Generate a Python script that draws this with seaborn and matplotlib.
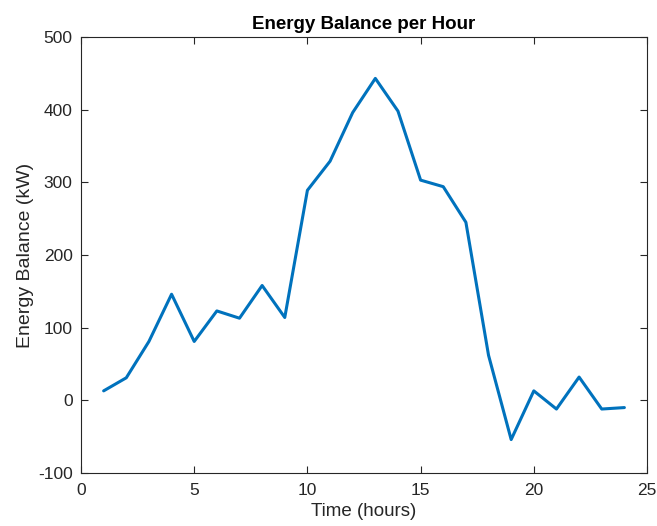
import numpy as np
import pandas as pd
import seaborn as sns
import matplotlib.pyplot as plt

# hourly energy balance
hours = list(range(1, 25))
balance_kw = [13, 31, 81, 146, 81, 123, 113, 158, 114, 289, 329, 396,
              443, 398, 303, 294, 245, 62, -54, 13, -12, 32, -12, -10]

x_ticks = [0, 5, 10, 15, 20, 25]
y_ticks = [-100, 0, 100, 200, 300, 400, 500]

LINE_COLOR = "#0072BD"
AX_COLOR = "#262626"

sns.set_theme(style="ticks")
plt.rcParams['font.family'] = ['Liberation Sans', 'DejaVu Sans']
plt.rcParams['axes.unicode_minus'] = False

df = pd.DataFrame({"hour": hours, "balance": balance_kw})

fig = plt.figure(figsize=(6.57, 5.26), dpi=100)
ax = fig.add_axes([0.1233, 0.1008, 0.8615, 0.8289])

sns.lineplot(data=df, x="hour", y="balance", ax=ax, color=LINE_COLOR, linewidth=2.2)

ax.set_xlim(0, 25)
ax.set_ylim(-100, 500)
ax.set_xticks(x_ticks)
ax.set_yticks(y_ticks)
ax.tick_params(direction="in", top=True, right=True, length=5, width=0.8,
               colors=AX_COLOR, labelsize=12.5, labelcolor=AX_COLOR)
ax.tick_params(axis="x", pad=7.5)
ax.tick_params(axis="y", pad=6)
for s in ax.spines.values():
    s.set_color(AX_COLOR)
    s.set_linewidth(0.8)
    s.set_visible(True)

ax.set_xlabel("Time (hours)", fontsize=13.5, color=AX_COLOR, labelpad=3)
ax.set_ylabel("Energy Balance (kW)", fontsize=14, color=AX_COLOR, labelpad=3)
ax.set_title("Energy Balance per Hour", fontsize=13.5, fontweight="bold", color="black", pad=6)

fig.savefig("out.png", dpi=100)
